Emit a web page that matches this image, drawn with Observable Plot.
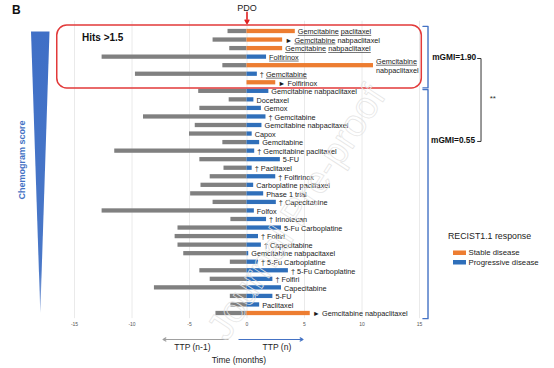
<!DOCTYPE html>
<html>
<head>
<meta charset="utf-8">
<script src="https://cdn.jsdelivr.net/npm/d3@7"></script>
<script src="https://cdn.jsdelivr.net/npm/@observablehq/plot@0.6"></script>
<style>
  html, body { margin: 0; padding: 0; background: #fff; }
  #chart { width: 554px; height: 368px; overflow: hidden; }
</style>
</head>
<body>
<div id="chart"></div>
<script>
// ---- data ----
const labels = [
  "Gemcitabine paclitaxel",
  "► Gemcitabine nabpaclitaxel",
  "Gemcitabine nabpaclitaxel",
  "Folfirinox",
  "Gemcitabine\nnabpaclitaxel",
  "† Gemcitabine",
  "► Folfirinox",
  "Gemcitabine nabpaclitaxel",
  "Docetaxel",
  "Gemox",
  "† Gemcitabine",
  "Gemcitabine nabpacitaxel",
  "Capox",
  "Gemcitabine",
  "† Gemcitabine paclitaxel",
  "5-FU",
  "† Paclitaxel",
  "† Folfirinox",
  "Carboplatine paclitaxel",
  "Phase 1 trial",
  "† Capecitabine",
  "Folfox",
  "† Irinotecan",
  "5-Fu Carboplatine",
  "† Folfiri",
  "† Capecitabine",
  "Gemcitabine nabpacitaxel",
  "† 5-Fu Carboplatine",
  "† 5-Fu Carboplatine",
  "† Folfiri",
  "Capecitabine",
  "5-FU",
  "Paclitaxel",
  "► Gemcitabine nabpaclitaxel"
];
// underlined part of each label ("" = none)
const underlined = [
  "Gemcitabine paclitaxel", "Gemcitabine", "Gemcitabine nabpaclitaxel", "Folfirinox",
  "Gemcitabine", "Gemcitabine", "", "", "", "", "", "", "", "", "", "", "", "",
  "", "", "", "", "", "", "", "", "", "", "", "", "", "", "", ""
];
// TTP of previous line (n-1), months (drawn to the left)
const ttpPrev = [1.65, 2.95, 1.5, 12.6, 2.1, 9.7, 0, 4.2, 1.55, 4.1, 9.0, 4.5, 5.0, 2.1, 11.5, 4.1, 2.0,
  3.2, 4.0, 4.9, 2.95, 12.6, 1.4, 6.0, 6.25, 6.0, 5.5, 1.45, 4.1, 3.2, 8.05, 1.45, 1.4, 2.7];
// TTP of PDO-guided line (n), months
const ttpN = [4.2, 3.1, 3.1, 1.7, 11.0, 0.9, 2.5, 1.9, 0.6, 1.25, 1.65, 1.3, 0.45, 1.1, 0.67, 2.9, 0.45,
  2.5, 0.58, 1.45, 2.55, 0.64, 1.7, 3.0, 1.0, 1.25, 0.15, 1.0, 3.6, 2.25, 3.0, 2.25, 1.1, 5.5];
const S = "Stable disease", P = "Progressive disease";
const response = [S, S, S, P, S, P, S, P, P, P, P, P, P, P, P, P, P,
  P, P, P, P, P, P, P, P, P, P, P, P, P, P, P, P, S];
const responseTypes = [S, P];
const responseColors = ["#ed7d31", "#2f6fba"];
const xTicks = [-15, -10, -5, 0, 5, 10, 15];

const rows = labels.map((label, i) => ({i, label, prev: ttpPrev[i], next: ttpN[i], resp: response[i]}));
const hits = rows.filter(d => d.i < 7);
const FONT = "'Liberation Sans', Arial, Helvetica, sans-serif";
const half = 0.25;

const svg = Plot.plot({
  width: 554, height: 368,
  marginLeft: 74, marginRight: 135, marginTop: 31, marginBottom: 55,
  style: {fontFamily: FONT, fontSize: "5px", color: "#555", background: "#fff", overflow: "visible"},
  x: {domain: [-15, 15], ticks: xTicks, tickSize: 0, tickPadding: 9, tickFormat: d => String(d), label: null},
  y: {domain: [0, 33], reverse: true, axis: null},
  color: {domain: responseTypes, range: responseColors},
  marks: [
    Plot.ruleX(xTicks, {x: d => d, y1: -1.2, y2: 33.6, stroke: "#e4e4e4", strokeWidth: 0.8}),
    // previous-line TTP (grey, to the left)
    Plot.rect(rows, {x1: 0, x2: d => -d.prev, y1: d => d.i - half, y2: d => d.i + half, fill: "#808080"}),
    // PDO-guided TTP (coloured by response)
    Plot.rect(rows, {x1: 0, x2: "next", y1: d => d.i - half, y2: d => d.i + half, fill: "resp"}),
    Plot.text(rows, {x: "next", y: "i", text: "label", textAnchor: "start", dx: 2.5, fontSize: 7.3,
      lineHeight: 1.2, fill: "#1a1a1a"}),
    // PDO marker
    Plot.text(["PDO"], {x: 0, y: -2.68, text: d => d, fontSize: 9, fill: "#222"}),
    Plot.arrow([0], {x1: 0, x2: 0, y1: -2.25, y2: -0.95, stroke: "#e02020", strokeWidth: 1.6, headLength: 5}),
    // Hits > 1.5 box
    Plot.rect([hits], {x1: -16.5, x2: 15.2, y1: g => g[0].i - 0.7, y2: g => g[g.length - 1].i + 0.67,
      rx: 10, fill: "none", stroke: "#e23a3a", strokeWidth: 1.5}),
    Plot.text(["Hits >1.5"], {x: -14.35, y: 0.72, text: d => d, textAnchor: "start", fontWeight: "bold", fontSize: 10, fill: "#111"}),
    // group brackets
    Plot.line([[15.3, -0.6], [15.74, -0.6], [15.74, 6.6], [15.3, 6.6]], {x: d => d[0], y: d => d[1], stroke: "#4472c4", strokeWidth: 1.4}),
    Plot.line([[15.3, 6.8], [15.74, 6.8], [15.74, 33.6], [15.3, 33.6]], {x: d => d[0], y: d => d[1], stroke: "#4472c4", strokeWidth: 1.4}),
    Plot.text(["mGMI=1.90"], {x: 16.1, y: 3.04, text: d => d, textAnchor: "start", fontWeight: "bold", fontSize: 8.3, fill: "#111"}),
    Plot.text(["mGMI=0.55"], {x: 16.0, y: 12.75, text: d => d, textAnchor: "start", fontWeight: "bold", fontSize: 8.3, fill: "#111"}),
    Plot.line([[20.05, 3.16], [20.35, 3.16], [20.35, 12.87], [20.05, 12.87]], {x: d => d[0], y: d => d[1], stroke: "#333", strokeWidth: 1}),
    Plot.text(["**"], {x: 21.1, y: 7.8, text: d => d, textAnchor: "start", fontSize: 8, fill: "#333"}),
    // TTP arrows and axis captions
    Plot.arrow([0], {x1: -1.65, x2: -7.3, y1: 36.04, y2: 36.04, stroke: "#a0a0a0", strokeWidth: 1.2, headLength: 4}),
    Plot.arrow([0], {x1: -0.7, x2: 4.87, y1: 36.04, y2: 36.04, stroke: "#4472c4", strokeWidth: 1.2, headLength: 4}),
    Plot.text(["TTP (n-1)"], {x: -4.75, y: 36.95, text: d => d, fontSize: 8.5, fill: "#222"}),
    Plot.text(["TTP (n)"], {x: 2.6, y: 36.95, text: d => d, fontSize: 8.5, fill: "#222"}),
    Plot.text(["Time (months)"], {x: -0.7, y: 38.45, text: d => d, fontSize: 8.5, fill: "#222"})
  ]
});

document.getElementById("chart").append(svg);

// find the label mark group (the text group holding one element per row)
let labelNode = null;
d3.select(svg).selectAll('g[aria-label="text"]').each(function () {
  if (this.querySelectorAll(":scope > text").length === labels.length) labelNode = this;
});

// partial underlines on the highlighted labels (drawn as thin lines under each word)
if (labelNode) {
  const labelG = d3.select(labelNode);
  const texts = Array.from(labelNode.querySelectorAll(":scope > text"));
  texts.forEach((textEl, i) => {
    const u = underlined[i];
    if (!u) return;
    const el = d3.select(textEl);
    const words = u.split(" ");
    const targets = [];
    const spans = textEl.querySelectorAll("tspan");
    if (spans.length) {
      spans.forEach(sp => { if (sp.textContent.startsWith(u)) targets.push(sp); });
    } else {
      const t = textEl.textContent, k = t.indexOf(u);
      if (k < 0) return;
      el.text(null);
      if (k > 0) el.append("tspan").text(t.slice(0, k));
      words.forEach((w, j) => {
        if (j > 0) el.append("tspan").text(" ");
        targets.push(el.append("tspan").text(w).node());
      });
      if (k + u.length < t.length) el.append("tspan").text(t.slice(k + u.length));
    }
    const tr = textEl.getAttribute("transform");
    targets.forEach(sp => {
      const n = sp.getNumberOfChars();
      if (!n) return;
      const s = sp.getStartPositionOfChar(0), e = sp.getEndPositionOfChar(n - 1);
      const ln = labelG.append("line")
        .attr("x1", s.x).attr("x2", e.x).attr("y1", s.y + 1.1).attr("y2", s.y + 1.1)
        .attr("stroke", "#1a1a1a").attr("stroke-width", 0.6);
      if (tr) ln.attr("transform", tr);
    });
  });
}

// decorations outside the plotting frame
const g = d3.select(svg).append("g").attr("font-family", FONT).attr("text-anchor", "start");
const defs = g.append("defs");
const grad = defs.append("linearGradient").attr("id", "triGrad").attr("x1", 0).attr("y1", 0).attr("x2", 0).attr("y2", 1);
grad.append("stop").attr("offset", "0%").attr("stop-color", "#3f6fc6");
grad.append("stop").attr("offset", "85%").attr("stop-color", "#4a78c8");
grad.append("stop").attr("offset", "100%").attr("stop-color", "#9bb2de");
g.append("polygon").attr("points", "31,31.5 49.5,31.5 40.3,313").attr("fill", "url(#triGrad)");
g.append("text").attr("x", 12).attr("y", 13.5).attr("font-size", 12).attr("font-weight", "bold").attr("fill", "#111").text("B");
g.append("text").attr("transform", "translate(24.5,160) rotate(-90)").attr("text-anchor", "middle")
  .attr("font-size", 9).attr("font-weight", "bold").attr("fill", "#4472c4").text("Chemogram score");

// legend
const color = svg.scale("color");
g.append("text").attr("x", 448).attr("y", 238.5).attr("font-size", 8.8).attr("fill", "#222").text("RECIST1.1 response");
responseTypes.forEach((r, j) => {
  g.append("rect").attr("x", 453).attr("y", 250.5 + j * 9.5).attr("width", 13).attr("height", 4.5)
    .attr("fill", color.apply(r));
  g.append("text").attr("x", 468.5).attr("y", 255.3 + j * 9.5).attr("font-size", 7.8).attr("fill", "#222").text(r);
});

// faint watermark
g.append("text").attr("transform", "translate(296,212) rotate(-57)").attr("text-anchor", "middle")
  .attr("dominant-baseline", "central").attr("font-size", 38).attr("fill", "none")
  .attr("stroke", "#e4e4e4").attr("stroke-width", 0.7).text("Journal Pre-proof");
</script>
</body>
</html>
